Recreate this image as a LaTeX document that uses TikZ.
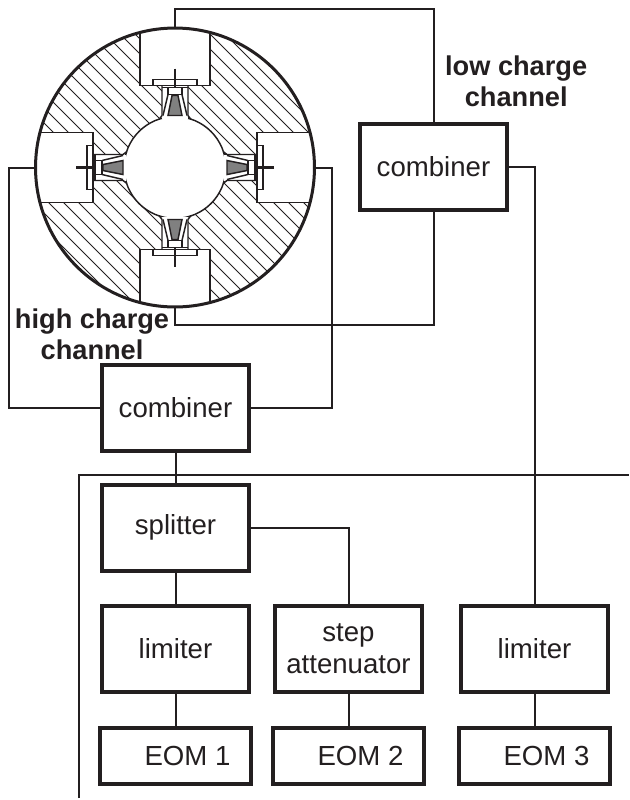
\documentclass[tikz,border=0pt]{standalone}
\usepackage{fontspec}
\setmainfont{Liberation Sans}
\usepackage{xcolor}
\usepackage{tikz}
\usetikzlibrary{positioning}
\definecolor{ink}{RGB}{35,31,32}

\begin{document}
\begin{tikzpicture}[x=0.75pt, y=-0.75pt, color=ink, node distance=26pt]
    \tikzstyle{blockbox}=[draw=ink, line width=3pt, outer sep=0pt, inner sep=0pt,
      minimum width=110.25pt, minimum height=64.5pt, align=center,
      font=\fontsize{20.7}{24}\selectfont]
    \tikzstyle{eombox}=[blockbox, minimum width=113.25pt, minimum height=42pt]
    \tikzstyle{chlabel}=[inner sep=0pt, align=center,
      font=\fontsize{20.4}{23.4}\selectfont\bfseries]
    \tikzstyle{wire}=[draw=ink, line width=1.5pt]
    \tikzstyle{hatchline}=[draw=ink, line width=0.7pt]
    \tikzstyle{partline}=[draw=ink, line width=1.1pt]

    \useasboundingbox (0,0) rectangle (629,800);
    \coordinate (hub) at (175,167.5);

    % hatched body, pockets and feeds
    \begin{scope}
      \clip (hub) circle (104.6pt);
      \foreach \c in {-214,-199,...,341}
        \draw[hatchline] (\c,0) -- (\c+400,400);
      \fill[white] (hub) circle (38.2pt);
      \draw[partline] (hub) circle (38.2pt);
      \foreach \ang in {0,90,180,270} {
        \begin{scope}[shift={(hub)}, rotate=\ang]
          \draw[partline, fill=white] (-35,-150) rectangle (35,-82);
          \fill[white] (-13,-82) rectangle (13,-49);
          \draw[partline] (-13,-82) -- (-13,-52) -- (-16,-48);
          \draw[partline] (13,-82) -- (13,-52) -- (16,-48);
          \draw[partline, fill=white] (-22,-88) rectangle (22,-82);
          \draw[partline] (-13,-80) -- (-7,-80) (13,-80) -- (7,-80);
          \draw[partline] (-7,-73) -- (-12,-52) (7,-73) -- (12,-52);
          \draw[partline, fill=black!50] (-3,-72) -- (3,-72) -- (7,-52) -- (-7,-52) -- cycle;
          \draw[line width=2.2pt, draw=ink] (0,-99) -- (0,-80);
          \draw[partline, fill=white] (-7,-80) rectangle (7,-73);
        \end{scope}
      }
    \end{scope}
    \node[circle, draw=ink, line width=2.25pt, minimum size=209.2pt, inner sep=0pt,
      outer sep=0pt] (disk) at (hub) {};

    \node[blockbox] (comblow) at (433.5,167) {combiner};
    \node[blockbox] (combhigh) at (175.5,407.5) {combiner};
    \node[blockbox, below=25.5pt of combhigh] (split) {splitter};
    \node[blockbox, below=26.25pt of split] (lim1) {limiter};
    \node[blockbox, right=19.5pt of lim1] (att) {step\\attenuator};
    \node[blockbox, right=29.25pt of att] (lim2) {limiter};
    \node[eombox, below=27pt of lim1] (eom1) {\hspace*{18pt}EOM 1};
    \node[eombox, below=27pt of att] (eom2) {\hspace*{18pt}EOM 2};
    \node[eombox, below=27pt of lim2] (eom3) {\hspace*{18pt}EOM 3};

    \node[chlabel, above=12.5pt of comblow, xshift=62pt] (lowlabel) {low charge\\channel};
    \node[chlabel, above=3.5pt of combhigh, xshift=-62.6pt] (highlabel) {high charge\\channel};

    \coordinate (framefoot) at (79,798);
    \coordinate (frameend) at (629,475);

    \draw[wire] (framefoot) |- (frameend);
    \draw[wire] (disk.north) -- ++(0,-19) -| (comblow.north);
    \draw[wire] (disk.south) -- ++(0,18) -| (comblow.south);
    \draw[wire] (disk.west) -- ++(-27,0) |- (combhigh.west);
    \draw[wire] (disk.east) -- ++(18,0) |- (combhigh.east);
    \draw[wire] (comblow.east) -| (lim2.north);
    \draw[wire] (combhigh) -- (split);
    \draw[wire] (split) -- (lim1);
    \draw[wire] (split.east) -| (att.north);
    \draw[wire] (lim1) -- (eom1);
    \draw[wire] (att) -- (eom2);
    \draw[wire] (lim2) -- (eom3);
  \end{tikzpicture}
\end{document}
